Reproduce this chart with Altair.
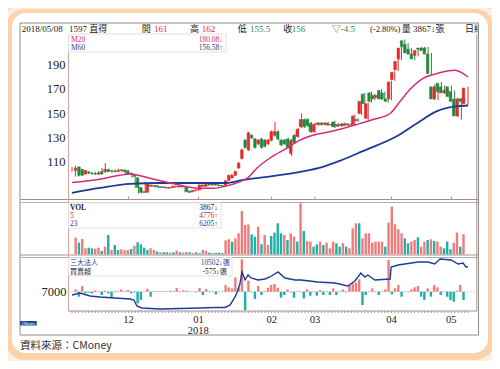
import altair as alt
import pandas as pd

# ---------------- data ----------------
opens = [103,106,104,100,102,101,100.5,100,102,102,
         104,103,102.5,102,103,103.5,103,100.5,100,97,
         89,85.5,85,91,90,90.5,89.5,89,89,88.5,
         89,90,89.5,90,89.5,86,85.5,86.5,87,91,
         90,91.5,91,92,91,90.5,90.5,95,97,99,
         105,113,128,120,132,129,125,129,128,125,
         128,132,135,128,128,129,117,132,131,139,
         145,145,142,135,141,142,141,142,140.5,143,
         139.5,141,140,141.5,140.5,141,145,150,166,146,
         167,165,163,169,167,162,162,178,186,195,
         210,207,203,199,198,204,204,204,199,172,
         162,175,172,167,172,168,162,148,162,158]
closes = [105,99,99,103,101,100.5,100,101,100,104,
          102,102.5,102,103,103.5,102,100,101,98,89,
          85,85,92,90,90.5,89.5,89,89.5,88.5,89,
          90,89.5,90,89.5,85.5,85,86.5,87,91,90,
          91.5,91,92,91,90.5,90,94.5,99,99,102,
          109,120,122,134,130,122,128,122,123,128,
          135,135,129,124,125,122,128,126,137,145,
          139,140,135,141,142,141,142,140.5,141,139,
          141,140,141.5,140.5,141,148,144,160,158,158,
          160,162,165,162,162,160,176,184,193,204,
          205,200,199,195,202,203,202,199,183,162,
          172,168,167,169,164,160,148,162,160,171]
highs = [106,107,105,104,103,102,101.5,102,102.5,105,
         109,104,103,104,104.5,104,103.5,102,100.5,97.5,
         89.5,86.5,93,92,91,91,90,90,89.5,89.5,
         90.5,90.5,90.5,90.5,90,86.5,87,87.5,91.5,91.5,
         92,92,92.5,92.5,91.5,91,95,99.5,100,103,
         110,121,129,135,133,130,129,130,129,129,
         136,143,136,129,129,130,129,133,138,150,
         146,146,143,142,143,143,143,143,142,144,
         142,142,142.5,142,142,149,146,161,167,159,
         168,166,166,170,168,163,177,185,195,205,
         211,208,204,200,203,205,205,205,200,174,
         173,176,173,170,173,169,163,163,163,172]
lows = [102,98,98,99,100,100,99.5,99.5,99.5,101.5,
        101,102,101,101.5,102.5,101.5,99.5,100,97,88.5,
        84,84,84.5,89,89.5,89,88.5,88.5,88,88,
        88.5,89,89,89,85,84.5,85,86,86.5,89.5,
        89.5,90.5,90.5,90.5,90,89.5,90,94.5,96.5,98.5,
        104.5,112,121,119,129,121,124,121,122,124,
        127,131,128,123,124,121,115,125,130,138,
        138,139,134,134,140,140,140.5,140,139.5,138,
        139,139,139.5,139.5,140,140,143,149,157,144,
        159,161,162,161,161,159,161,177,185,194,
        204,199,198,194,197,202,201,198,182,161,
        161,167,166,166,163,159,147,145,159,157]

volumes = [3215,2250,2958,1157,1286,1157,1093,1286,643,1479,
           3729,836,1800,836,965,836,836,1029,1672,2315,
           1929,1286,836,1157,836,514,386,386,386,322,
           386,707,386,322,450,386,257,386,193,836,
           707,322,257,257,322,257,2700,2894,2443,3086,
           4051,8359,5658,5787,3858,3408,5337,1929,3729,1800,
           3537,4180,5980,4051,3729,2765,4051,3408,2443,9838,
           4501,2572,2443,1479,1929,2443,1800,2250,1157,2443,
           2122,1479,2122,1479,1157,5015,5980,5980,3086,4051,
           4051,2250,2443,2443,2443,1479,6109,9195,5787,4823,
           4051,3086,2122,2443,2765,3279,1479,2443,2765,2894,
           2572,2443,1479,1157,2443,965,2250,4180,1479,3867]
vol_dir = list("rtrrttrrtr" "trttrrrtrt" "tttrrtrttr" "trtrrtrttr"
               "rtrtttrrtr" "rrrrttrtrr" "ttttrtrrtr" "trrttrtrrr"
               "ttrtrrrtrr" "rrrrrtrrrr" "rttrrtrrtr" "trrtttrrtr")

net = [160,-345,390,-115,-60,-115,90,30,-230,70,
       -115,-390,-40,30,160,40,115,-115,-50,-805,
       -575,30,205,-345,-30,40,-30,40,-20,70,
       30,250,-30,90,70,-30,20,-40,250,-230,
       185,-30,45,-185,20,-20,460,300,230,990,
       300,2230,-1265,760,-40,-505,390,-230,40,275,
       460,530,275,-415,-230,160,-40,-415,30,-30,
       -460,160,-275,30,-275,115,-230,30,-230,230,
       -230,-30,160,-40,460,575,620,850,-920,-230,
       30,230,-30,-230,20,160,2185,-185,230,460,
       -345,20,-30,160,300,390,-345,-575,230,-345,
       460,300,-230,30,-345,-575,-690,70,460,-575]

hold_x = [0,2.4,5.4,8.4,12.9,17.4,18.6,19.5,21,26.4,32.5,38.5,43,46,47.5,
          49,49.9,50.5,51.1,52,52.9,53.8,55.9,58,59.5,61.9,64,67,68.8,73.9,
          79,82.9,85,86.8,88,88.9,91,95.6,95.9,98,100,104,107,109,110.6,
          113.9,116,117.5,118.4,119]
hold_v = [6540,6820,6400,6260,6120,5980,5840,5000,4720,4580,4650,4720,4790,4790,5140,
          6260,7240,8220,9760,8640,9340,8920,8640,8780,9060,9760,8920,8640,8640,8360,
          8220,7800,8500,9620,9060,9340,8640,8780,10460,10740,10880,11160,11160,10880,11580,
          11440,10880,11020,10460,10502]

ma20_x = [0,8.4,14.4,17.4,23.4,30.9,37.9,42.4,46.6,50.5,52.9,55.6,59.5,64.6,68.5,
          72.4,78.4,85.6,90.4,95.6,98.6,101.6,105.5,109.7,115.1,119]
ma20_v = [93.0,95.8,99,100.1,96.6,91.9,88.4,88.4,90.3,93.8,97.1,105,113.3,121.5,128,
          132,135.5,141,145,150,160,170,179,183,185.6,180.08]
ma60_x = [0,8.4,17.4,26.4,38.5,46,51.4,58.6,68.5,75.4,80.5,87.4,97.7,103.7,109.7,115.7,119]
ma60_v = [84.5,88.6,92,92.7,92.7,92.7,95.2,97.7,101.8,106,111,119,131.4,142,151.9,156,156.58]

price_ticks = [110, 130, 150, 170, 190]
hold_ticks = [7000]
month_pos = [17, 38, 60, 73, 96, 114]
month_lab = ["12", "01", "02", "03", "04", "05"]

# ---------------- layout ----------------
W, H = 484, 353
OX, OY = 8, 8
RED, GREEN = "#e32b2b", "#23883d"
VRED, VTEAL = "#f07b7b", "#1eb0a6"
PINK, NAVY = "#d62a78", "#1f3a95"
SERIF = "Liberation Serif, Noto Sans CJK TC"
SANS = "Noto Sans CJK TC, Noto Sans"
N = len(opens)

def ydom(v, py, u):
    cy = py - OY
    return [v - (H - cy) * u, v + cy * u]

px_first, px_last = 72, 468
ux = (N - 1) / (px_last - px_first)
XS = alt.Scale(domain=[-(px_first - OX) * ux, (W - (px_first - OX)) * ux], nice=False, zero=False)
PS = alt.Scale(domain=ydom(110, 162, 80 / 97), nice=False, zero=False)
VS = alt.Scale(domain=ydom(0, 254.3, 193), nice=False, zero=False)
HS = alt.Scale(domain=ydom(7000, 291.7, 140), nice=False, zero=False)
NS = alt.Scale(domain=ydom(0, 291.7, 69), nice=False, zero=False)

ONE = alt.Data(values=[{"a": 1}])

def rect(x, x2, y, y2, fill, stroke=None, sw=1, r=0):
    kw = dict(fill=fill, cornerRadius=r)
    if stroke:
        kw.update(stroke=stroke, strokeWidth=sw)
    else:
        kw.update(strokeWidth=0)
    return alt.Chart(ONE).mark_rect(**kw).encode(
        x=alt.value(x), x2=alt.value(x2), y=alt.value(y), y2=alt.value(y2))

def hline(x, x2, y, color, sw=1, dash=None):
    kw = dict(color=color, strokeWidth=sw)
    if dash:
        kw["strokeDash"] = dash
    return alt.Chart(ONE).mark_rule(**kw).encode(x=alt.value(x), x2=alt.value(x2), y=alt.value(y))

def vline(x, y, y2, color, sw=1):
    return alt.Chart(ONE).mark_rule(color=color, strokeWidth=sw).encode(
        x=alt.value(x), y=alt.value(y), y2=alt.value(y2))

def txt(s, x, y, color="#222", size=9.5, align="left", font=SERIF, weight="normal", baseline="alphabetic"):
    return alt.Chart(ONE).mark_text(text=s, align=align, baseline=baseline, font=font,
                                     fontSize=size, color=color, fontWeight=weight).encode(
        x=alt.value(x), y=alt.value(y))

# ---------------- tables ----------------
cdf = pd.DataFrame({"i": range(N), "o": opens, "c": closes, "h": highs, "l": lows})
cdf["d"] = ["up" if c >= o else "down" for o, c in zip(opens, closes)]
vdf = pd.DataFrame({"i": range(N), "v": volumes, "d": vol_dir})
ndf = pd.DataFrame({"i": range(N), "n": net})
ndf["d"] = ["r" if n >= 0 else "t" for n in net]
hdf = pd.DataFrame({"i": hold_x, "v": hold_v})
m20 = pd.DataFrame({"i": ma20_x, "v": ma20_v})
m60 = pd.DataFrame({"i": ma60_x, "v": ma60_v})
ptk = pd.DataFrame({"v": price_ticks, "t": [str(v) for v in price_ticks]})
htk = pd.DataFrame({"v": hold_ticks, "t": [str(v) for v in hold_ticks]})
mdf = pd.DataFrame({"i": month_pos, "t": month_lab})

cdir = alt.Color("d:N", scale=alt.Scale(domain=["up", "down"], range=[RED, GREEN]), legend=None)
vdir = alt.Color("d:N", scale=alt.Scale(domain=["r", "t"], range=[VRED, VTEAL]), legend=None)
X = alt.X("i:Q", scale=XS, axis=None)

layers = []
# glow frame
layers += [rect(-8, 492, -3, 357, "#fdeedf", r=24),
           rect(-3, 487, 1, 352, "#fad3ad", r=20),
           rect(4, 480, 5, 345, "#ffffff", r=14),
           rect(12, 470.5, 15, 327, "#ffffff", stroke="#8c8c8c", sw=1)]
# panel separators and borders
layers += [hline(12, 470.5, 191.5, "#a88f8f"), hline(12, 470.5, 194.5, "#b0b0b0"),
           hline(12, 470.5, 247, "#a88f8f"), hline(12, 470.5, 249.5, "#b0b0b0"),
           hline(60.5, 468.8, 303, "#a88f8f"),
           vline(60.5, 26, 303, "#d4a4a4"), vline(468.8, 26, 303, "#a88f8f")]

# month ticks on price bottom and day ticks on bottom axis
layers.append(alt.Chart(mdf).mark_rule(color="#a88f8f").encode(x=X, y=alt.value(188.5), y2=alt.value(191.5)))
layers.append(alt.Chart(cdf).mark_rule(color="#9a9a9a").encode(x=X, y=alt.value(303), y2=alt.value(305)))

# 7000 reference dotted line
layers.append(alt.Chart(htk).mark_rule(color="#aaaaaa", strokeDash=[1, 2]).encode(
    y=alt.Y("v:Q", scale=HS, axis=None), x=alt.value(60.5), x2=alt.value(468.8)))

# candles
layers.append(alt.Chart(cdf).mark_rule(strokeWidth=1).encode(
    x=X, y=alt.Y("l:Q", scale=PS, axis=None), y2="h:Q", color=cdir))
layers.append(alt.Chart(cdf).mark_bar(size=2.5, strokeWidth=0.6).encode(
    x=X, y=alt.Y("o:Q", scale=PS, axis=None), y2="c:Q", fill=cdir, stroke=cdir))
# moving averages
layers.append(alt.Chart(m60).mark_line(color=NAVY, strokeWidth=1.8, interpolate="monotone").encode(
    x=X, y=alt.Y("v:Q", scale=PS, axis=None)))
layers.append(alt.Chart(m20).mark_line(color=PINK, strokeWidth=1.5, interpolate="monotone").encode(
    x=X, y=alt.Y("v:Q", scale=PS, axis=None)))
# volume
layers.append(alt.Chart(vdf).mark_bar(size=2.4).encode(
    x=X, y=alt.Y("v:Q", scale=VS, axis=None), y2=alt.datum(0), color=vdir))
# institutional net buy/sell bars and holdings line
layers.append(alt.Chart(ndf).mark_bar(size=2.4).encode(
    x=X, y=alt.Y("n:Q", scale=NS, axis=None), y2=alt.datum(0), color=vdir))
layers.append(alt.Chart(hdf).mark_line(color=NAVY, strokeWidth=1.4).encode(
    x=X, y=alt.Y("v:Q", scale=HS, axis=None)))

# axis labels
layers.append(alt.Chart(ptk).mark_text(align="right", baseline="middle", font=SERIF, fontSize=12.5, color="#222").encode(
    y=alt.Y("v:Q", scale=PS, axis=None), x=alt.value(57.5), text="t:N"))
layers.append(alt.Chart(htk).mark_text(align="right", baseline="middle", font=SERIF, fontSize=12.5, color="#222").encode(
    y=alt.Y("v:Q", scale=HS, axis=None), x=alt.value(58.5), text="t:N"))
layers.append(alt.Chart(mdf).mark_text(align="center", baseline="middle", font=SERIF, fontSize=10.5, color="#222").encode(
    x=X, y=alt.value(311.5), text="t:N"))
layers.append(txt("2018", 190.3, 322.5, size=10.5, align="center", baseline="middle"))

# legend boxes
layers += [rect(60.5, 218, 26, 44, "#ffffff", stroke="#e0e0e0"),
           txt("M20", 63, 34, PINK, 7.5), txt("180.08↓", 215, 34, PINK, 7.5, "right"),
           txt("M60", 63, 41.5, NAVY, 7.5), txt("156.58↑", 215, 41.5, NAVY, 7.5, "right")]
layers += [rect(60.5, 213, 194.8, 220, "#ffffff", stroke="#e0e0e0"),
           txt("VOL", 62, 202, "#222", 7.5, weight="bold"), txt("3867↓", 210, 202, "#222", 7.5, "right"),
           txt("5", 62, 210, "#e02020", 7.5), txt("4776↑", 210, 210, "#e02020", 7.5, "right"),
           txt("23", 62, 218, NAVY, 7.5), txt("6205↑", 210, 218, NAVY, 7.5, "right")]
layers += [rect(60.5, 224, 249.8, 268, "#ffffff", stroke="#e0e0e0"),
           txt("三大法人", 62, 256.8, NAVY, 7, font=SANS), txt("10502↓張", 222, 256.8, NAVY, 7.3, "right"),
           txt("買賣超", 62, 265.6, "#222", 7, font=SANS), txt("-575↓張", 219, 265.6, "#222", 7.3, "right")]

# header row
HB = 23.7
HS_ = 9
layers += [txt("2018/05/08", 13.7, HB, size=HS_),
           txt("1597 直得", 61, HB, size=HS_),
           txt("開", 133.7, HB, size=HS_), txt("161", 146, HB, RED, HS_),
           txt("高", 182, HB, size=HS_), txt("162", 193.7, HB, RED, HS_),
           txt("低", 229.7, HB, size=HS_), txt("155.5", 242, HB, GREEN, HS_),
           txt("收", 275.3, HB, size=HS_), txt("156", 283.7, HB, GREEN, HS_),
           txt("▽-4.5", 323.7, HB, GREEN, HS_),
           txt("(-2.80%)", 362, HB, size=8.5),
           txt("量 3867↓張", 393.7, HB, size=HS_),
           txt("日線", 457, HB, size=HS_),
           rect(471, 479, 15.5, 27, "#ffffff"),
           vline(470.5, 15, 327, "#8c8c8c")]

# logo and source note
layers += [rect(12, 28.7, 313, 317.5, "#2343a0"),
           txt("CMoney", 20.3, 315.5, "#ffffff", 3.5, "center", SANS, baseline="middle"),
           txt("資料來源：CMoney", 12, 341, "#333333", 10.5, font=SANS)]

chart = alt.layer(*layers).resolve_scale(
    x="independent", y="independent", color="independent", fill="independent", stroke="independent"
).properties(width=W, height=H, padding=0, autosize="none").configure_view(stroke=None).configure(background="white")

chart.save("out.html", embed_options={"renderer": "svg", "actions": False})
